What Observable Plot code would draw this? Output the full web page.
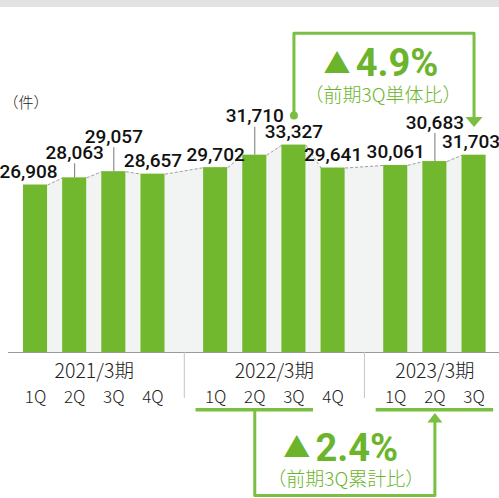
<!DOCTYPE html>
<html><head><meta charset="utf-8">
<script src="https://cdn.jsdelivr.net/npm/d3@7"></script>
<script src="https://cdn.jsdelivr.net/npm/@observablehq/plot@0.6"></script>
<style>
body{margin:0;background:#fff;width:499px;height:498px;overflow:hidden;}
#band{height:7px;background:#e2e2e2;}
#chart svg{display:block;overflow:visible;}
</style></head><body><div id="band"></div><div id="chart"></div>
<script>
// ---- data ----
const years = ["2021/3期", "2022/3期", "2023/3期"];
const quarters = ["1Q", "2Q", "3Q", "4Q"];
const yearOf = ["2021/3期","2021/3期","2021/3期","2021/3期","2022/3期","2022/3期","2022/3期","2022/3期","2023/3期","2023/3期","2023/3期"];
const quarterOf = ["1Q","2Q","3Q","4Q","1Q","2Q","3Q","4Q","1Q","2Q","3Q"];
const values = [26908, 28063, 29057, 28657, 29702, 31710, 33327, 29641, 30061, 30683, 31703];
const unitLabel = "（件）";
const qoqText = "4.9%", qoqNote = "（前期3Q単体比）";
const ytdText = "2.4%", ytdNote = "（前期3Q累計比）";

// ---- layout (styles / positions, not data) ----
const labelLift = [0, 12, 22, 0, 0, 26, 0, 0, 0, 26, 0];   // px extra lift for labels with leader lines
const labelShift = [-7, 0, 0, 0, 0, 0, 0, 0, 0, 0, -3];    // px horizontal nudge
const W = 499, H = 491, ML = 8, MR = 0, MB = 146;
const GROUP_STEP = 4.6, BAR_HALF = 0.307;
const xDomain = [-0.69, 11.85];
const PXX = (W - ML - MR) / (xDomain[1] - xDomain[0]);
const yMax = 50000, K = 0.006223;
const MT = H - MB - yMax * K;
const yAtPage = p => (352 - p) / K;          // page pixel row -> y value
const GREEN = "#71b82f", LINE_GREEN = "#7abf42", TEXT_GREEN = "#6cb42c";

const posOf = (y, q) => years.indexOf(y) * GROUP_STEP + quarters.indexOf(q);
const rows = values.map((v, i) => ({
  year: yearOf[i], quarter: quarterOf[i], value: v,
  pos: posOf(yearOf[i], quarterOf[i]), lift: labelLift[i], shift: labelShift[i]
}));

const areaPts = rows.flatMap(d => [{x: d.pos - BAR_HALF, y: d.value}, {x: d.pos + BAR_HALF, y: d.value}]);
const links = rows.slice(0, -1).map((d, i) => ({x1: d.pos + BAR_HALF, y1: d.value, x2: rows[i+1].pos - BAR_HALF, y2: rows[i+1].value}));

const groups = years.map((y, g) => {
  const r = rows.filter(d => d.year === y);
  return {year: y, center: d3.mean(r, d => d.pos), first: r[0].pos, last: r[r.length-1].pos};
});
const dividers = groups.slice(0, -1).map((g, i) => (g.last + groups[i+1].first) / 2);
const brackets = groups.slice(1).map(g => ({x1: posOf(g.year, "1Q") - 0.5, x2: posOf(g.year, "3Q") + 0.5}));

const tFrom = posOf("2022/3期", "3Q"), tTo = posOf("2023/3期", "3Q");
const bFrom = posOf("2022/3期", "2Q"), bTo = posOf("2023/3期", "2Q");
const topPath = [{x: tFrom, y: yAtPage(115)}, {x: tFrom, y: yAtPage(32.7)}, {x: tTo, y: yAtPage(32.7)}, {x: tTo, y: yAtPage(118)}];
const hwT = 8.5 / PXX;
const topHead = [{x: tTo - hwT, y: yAtPage(116.5)}, {x: tTo + hwT, y: yAtPage(116.5)}, {x: tTo, y: yAtPage(126.5)}, {x: tTo - hwT, y: yAtPage(116.5)}];
const botPath = [{x: bFrom, y: yAtPage(409)}, {x: bFrom, y: yAtPage(495)}, {x: bTo, y: yAtPage(495)}, {x: bTo, y: yAtPage(421)}];
const hwB = 7.5 / PXX;
const botHead = [{x: bTo - hwB, y: yAtPage(422)}, {x: bTo + hwB, y: yAtPage(422)}, {x: bTo, y: yAtPage(412.5)}, {x: bTo - hwB, y: yAtPage(422)}];
const tMid = (tFrom + tTo) / 2, bMid = (bFrom + bTo) / 2;

const JP = "'Noto Sans CJK JP', 'Noto Sans', sans-serif";

const plot = Plot.plot({
  width: W, height: H,
  marginLeft: ML, marginRight: MR, marginTop: MT, marginBottom: MB,
  x: {type: "linear", domain: xDomain, axis: null},
  y: {domain: [0, yMax], axis: null},
  style: {fontFamily: JP, background: "transparent", overflow: "visible"},
  marks: [
    Plot.areaY(areaPts, {x: "x", y: "y", fill: "#f2f3f3", curve: "linear"}),
    Plot.link(links, {x1: "x1", y1: "y1", x2: "x2", y2: "y2", stroke: "#a0a0a0", strokeWidth: 1, strokeDasharray: "3,2"}),
    Plot.rectY(rows, {x1: d => d.pos - BAR_HALF, x2: d => d.pos + BAR_HALF, y: "value", fill: GREEN}),
    Plot.ruleY([0], {stroke: "#9a9a9a", strokeWidth: 1}),
    Plot.ruleX(dividers, {x: d => d, y1: 0, y2: yAtPage(398), stroke: "#c4c4c4", strokeWidth: 1}),
    Plot.ruleX(rows.filter(d => d.lift > 0), {x: "pos", y1: "value", y2: d => d.value + (2 + d.lift) / K, stroke: "#777", strokeWidth: 1}),
    Plot.text(rows, {x: d => d.pos + d.shift / PXX, y: d => d.value + (7 + d.lift) / K, text: d => d3.format(",")(d.value),
      lineAnchor: "bottom", fontSize: 19, fontWeight: 500, fill: "#111", fontFamily: "Roboto, sans-serif", ariaLabel: "vlabels"}),
    Plot.text([unitLabel], {x: xDomain[0] - 5 / PXX, y: yAtPage(107), text: d => d, textAnchor: "start", lineAnchor: "bottom", fontSize: 15, fontWeight: 300, fill: "#222"}),
    Plot.text(groups, {x: "center", y: yAtPage(377.5), text: "year", lineAnchor: "bottom", fontSize: 19.5, fontWeight: 300, fill: "#222", ariaLabel: "years"}),
    Plot.text(rows, {x: "pos", y: yAtPage(402.5), text: "quarter", lineAnchor: "bottom", fontSize: 17, fontWeight: 300, fill: "#222", ariaLabel: "qs"}),
    Plot.ruleY(brackets, {x1: "x1", x2: "x2", y: yAtPage(409.3), stroke: LINE_GREEN, strokeWidth: 3.5}),
    Plot.line(topPath, {x: "x", y: "y", stroke: LINE_GREEN, strokeWidth: 3, curve: "linear"}),
    Plot.line(topHead, {x: "x", y: "y", fill: LINE_GREEN, stroke: "none", curve: "linear"}),
    Plot.dot([{x: tFrom, y: yAtPage(115)}], {x: "x", y: "y", r: 4, fill: LINE_GREEN}),
    Plot.line(botPath, {x: "x", y: "y", stroke: LINE_GREEN, strokeWidth: 3, curve: "linear"}),
    Plot.line(botHead, {x: "x", y: "y", fill: LINE_GREEN, stroke: "none", curve: "linear"}),
    Plot.text([{x: tMid - 47 / PXX, y: yAtPage(73)}], {x: "x", y: "y", text: () => "▲", lineAnchor: "bottom", fontSize: 27, fill: TEXT_GREEN}),
    Plot.text([{x: tMid + 13 / PXX, y: yAtPage(75.5)}], {x: "x", y: "y", text: () => qoqText, lineAnchor: "bottom", fontSize: 38, fontWeight: 700, fill: TEXT_GREEN, fontFamily: "Roboto, sans-serif", ariaLabel: "big"}),
    Plot.text([{x: tMid - 1 / PXX, y: yAtPage(101)}], {x: "x", y: "y", text: () => qoqNote, lineAnchor: "bottom", fontSize: 19, fontWeight: 300, fill: TEXT_GREEN}),
    Plot.text([{x: bMid - 48 / PXX, y: yAtPage(457)}], {x: "x", y: "y", text: () => "▲", lineAnchor: "bottom", fontSize: 27, fill: TEXT_GREEN}),
    Plot.text([{x: bMid + 12 / PXX, y: yAtPage(460.5)}], {x: "x", y: "y", text: () => ytdText, lineAnchor: "bottom", fontSize: 38, fontWeight: 700, fill: TEXT_GREEN, fontFamily: "Roboto, sans-serif", ariaLabel: "big"}),
    Plot.text([{x: bMid + 1 / PXX, y: yAtPage(485.5)}], {x: "x", y: "y", text: () => ytdNote, lineAnchor: "bottom", fontSize: 19, fontWeight: 300, fill: TEXT_GREEN})
  ]
});
d3.select(plot).selectAll('g[aria-label="vlabels"] text').style("letter-spacing", "-1.2px");
d3.select(plot).selectAll('g[aria-label="big"] text').style("letter-spacing", "2px");
d3.select(plot).selectAll('g[aria-label="years"] text').style("letter-spacing", "1.5px");
d3.select(plot).selectAll('g[aria-label="qs"] text').style("letter-spacing", "1px");
document.getElementById("chart").appendChild(plot);
</script></body></html>
